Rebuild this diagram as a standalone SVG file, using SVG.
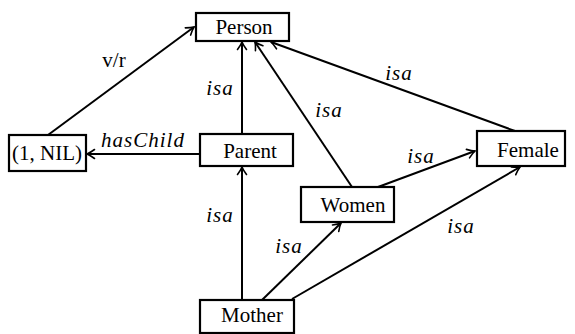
<svg xmlns="http://www.w3.org/2000/svg" width="575" height="334" viewBox="0 0 575 334">
  <defs>
    <marker id="arrow" markerUnits="userSpaceOnUse" markerWidth="14" markerHeight="12" viewBox="-10 -6 12 12" refX="0" refY="0" orient="auto">
      <path d="M -7.5 -4.5 Q -3 -1.2 0 0 Q -3 1.2 -7.5 4.5" fill="none" stroke="#000" stroke-width="1.6" stroke-linecap="round"/>
    </marker>
  </defs>
  <style>
    .box { fill: #fff; stroke: #000; stroke-width: 2.2; }
    .rel { font-style: italic; letter-spacing: 1px; }
    .edge { stroke: #000; stroke-width: 2; fill: none; marker-end: url(#arrow); }
  </style>

  <g font-family="Liberation Serif, Times New Roman, serif" font-size="21" fill="#000">
  <g id="connectors">
    <line class="edge" x1="48" y1="135" x2="194" y2="27"/>
    <line class="edge" x1="242" y1="134" x2="242" y2="42"/>
    <line class="edge" x1="200" y1="154" x2="87" y2="154"/>
    <line class="edge" x1="352" y1="187" x2="255" y2="42"/>
    <line class="edge" x1="515" y1="131" x2="271" y2="42"/>
    <line class="edge" x1="378" y1="187" x2="475" y2="151"/>
    <line class="edge" x1="242" y1="300" x2="242" y2="167"/>
    <line class="edge" x1="262" y1="300" x2="341" y2="223"/>
    <line class="edge" x1="292" y1="299" x2="520" y2="167"/>

    <text x="114" y="67" text-anchor="middle">v/r</text>
    <text class="rel" x="220" y="95" text-anchor="middle">isa</text>
    <text class="rel" x="143" y="147" text-anchor="middle">hasChild</text>
    <text class="rel" x="399" y="80" text-anchor="middle">isa</text>
    <text class="rel" x="329" y="117" text-anchor="middle">isa</text>
    <text class="rel" x="421" y="163" text-anchor="middle">isa</text>
    <text class="rel" x="220" y="222" text-anchor="middle">isa</text>
    <text class="rel" x="289" y="253" text-anchor="middle">isa</text>
    <text class="rel" x="461" y="233" text-anchor="middle">isa</text>
  </g>

  <g id="person">
    <rect class="box" x="196" y="13" width="93" height="28"/>
    <text x="244" y="34" text-anchor="middle">Person</text>
  </g>
  <g id="nil">
    <rect class="box" x="9" y="135" width="77" height="36"/>
    <text x="47" y="160" text-anchor="middle">(1, NIL)</text>
  </g>
  <g id="parent">
    <rect class="box" x="200" y="134" width="93" height="32"/>
    <text x="250" y="158" text-anchor="middle">Parent</text>
  </g>
  <g id="female">
    <rect class="box" x="477" y="131" width="88" height="35"/>
    <text x="528" y="157" text-anchor="middle">Female</text>
  </g>
  <g id="women">
    <rect class="box" x="301" y="187" width="93" height="35"/>
    <text x="353" y="212" text-anchor="middle">Women</text>
  </g>
  <g id="mother">
    <rect class="box" x="200" y="300" width="94" height="33"/>
    <text x="252" y="322" text-anchor="middle">Mother</text>
  </g>
  </g>
</svg>
